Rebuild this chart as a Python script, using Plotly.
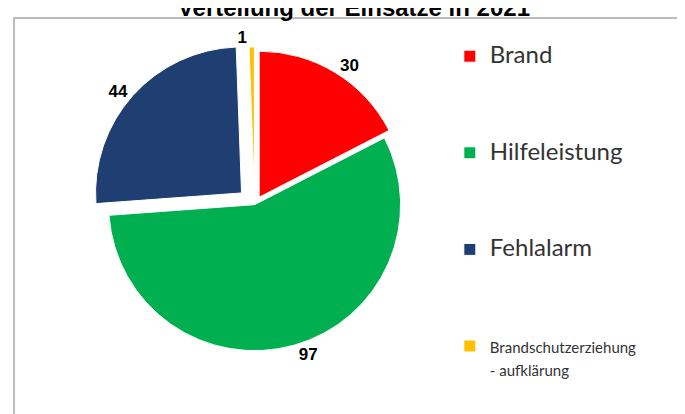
import plotly.graph_objects as go

categories = ["Brand", "Hilfeleistung", "Fehlalarm", "Brandschutzerziehung - aufklärung"]
values = [30, 97, 44, 1]
colors = ["#FF0000", "#00B050", "#1F3F73", "#FFC000"]
pulls = [0.06, 0.0, 0.12, 0.08]
title_text = "Verteilung der Einsätze in 2021"

big = "<span style='font-size:24px'>{}</span>"
small = "<span style='font-size:15px'>{}</span>"
pad = "<br> <br> <br> "
legend_labels = [
    big.format("Brand") + pad,
    big.format("Hilfeleistung") + pad,
    big.format("Fehlalarm") + pad,
    small.format("Brandschutzerziehung") + "<br>" + small.format("- aufklärung"),
]

fig = go.Figure(
    go.Pie(
        labels=legend_labels,
        values=values,
        text=[str(v) for v in values],
        textinfo="text",
        textposition="outside",
        textfont=dict(family="Liberation Sans, Arial", size=17, color="#000000", weight="bold"),
        marker=dict(colors=colors, line=dict(color="white", width=1)),
        pull=pulls,
        sort=False,
        direction="clockwise",
        rotation=0,
        domain=dict(x=[0.03, 0.69], y=[0.13, 0.92]),
        hovertext=categories,
        hoverinfo="text+value",
    )
)

fig.update_layout(
    width=685,
    height=414,
    margin=dict(l=0, r=0, t=0, b=0, autoexpand=False),
    paper_bgcolor="white",
    title=dict(
        text=title_text,
        x=0.505,
        xanchor="center",
        y=1.0,
        yanchor="middle",
        yref="container",
        font=dict(family="Liberation Sans, Arial", size=24, color="#000000", weight="bold"),
    ),
    legend=dict(
        x=0.645,
        y=1 - 30 / 414,
        xanchor="left",
        yanchor="top",
        font=dict(family="Lato, Noto Sans", size=18, color="#333333"),
        valign="top",
        itemwidth=30,
    ),
    shapes=[
        dict(
            type="rect",
            xref="paper",
            yref="paper",
            x0=6 / 685,
            x1=1.2,
            y0=-0.2,
            y1=1 - 10 / 414,
            line=dict(color="#A6A6A6", width=1.5),
            fillcolor="rgba(0,0,0,0)",
            layer="below",
        )
    ],
)

fig.write_html("out.html")
